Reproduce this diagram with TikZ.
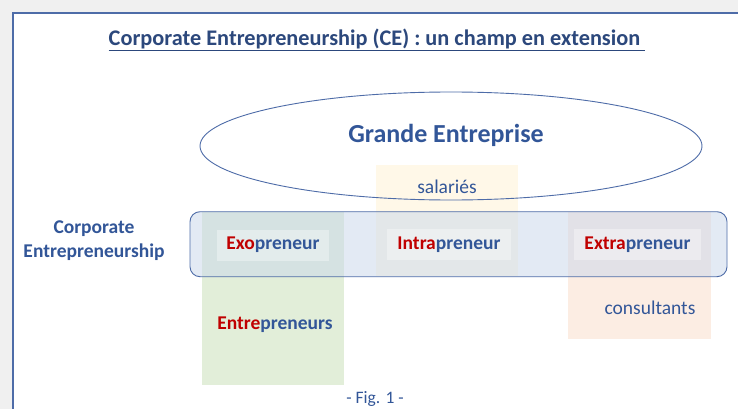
\documentclass[tikz,border=0pt]{standalone}
\usepackage{fontspec}
\setmainfont{Carlito}
\definecolor{titleblue}{RGB}{44, 72, 124}
\definecolor{textblue}{RGB}{50, 86, 152}
\definecolor{lineblue}{RGB}{78, 108, 168}
\definecolor{bandblue}{RGB}{201, 215, 235}
\definecolor{exored}{RGB}{192, 0, 0}
\definecolor{salyellow}{RGB}{255, 248, 232}
\definecolor{entgreen}{RGB}{226, 238, 217}
\definecolor{consorange}{RGB}{252, 237, 227}
\usepackage{tikz}
\usetikzlibrary{shapes.geometric, positioning}

\begin{document}
\begin{tikzpicture}[x=1pt, y=-1pt,
    zone/.style={rectangle, inner sep=0pt, draw=none},
    lbox/.style={rectangle, inner sep=0pt, fill=white, fill opacity=0.35, text opacity=1, minimum height=31pt},
    lab/.style={text=textblue, inner sep=0pt, font=\fontsize{19.5}{24}\selectfont},
    blab/.style={lab, font=\fontsize{19.5}{24}\selectfont\bfseries}]
  \useasboundingbox (0,0) rectangle (738,409);

  % Page frame
  \fill[black!6] (0,0) rectangle (738,409);
  \fill[white] (13,13) rectangle (738,409);
  \draw[lineblue, line width=1.4pt] (13,409) |- (738,13);

  % Title
  \node[text=titleblue, inner sep=0pt, font=\fontsize{22.3}{26}\selectfont\bfseries] (title) at (377,40) {\underline{Corporate Entrepreneurship (CE) : un champ en extension\ }};

  % Coloured zones
  \node[zone, fill=salyellow, minimum width=142pt, minimum height=111pt] (salzone) at (447,220.5) {};
  \node[zone, fill=entgreen, minimum width=142pt, minimum height=173pt] (entzone) at (272.6,298.4) {};
  \node[zone, fill=consorange, minimum width=143pt, minimum height=127pt] (conszone) at (639.5,275.5) {};

  % Corporate Entrepreneurship band
  \node[rectangle, rounded corners=10pt, draw=lineblue, line width=0.9pt, fill=bandblue, fill opacity=0.5, minimum width=537pt, minimum height=65pt, inner sep=0pt] (band) at (458.5,244.2) {};

  % Grande Entreprise
  \node[ellipse, draw=lineblue, line width=0.9pt, minimum width=502pt, minimum height=108pt, inner sep=0pt] (grande) at (451,146) {};
  \node[text=textblue, inner sep=0pt, font=\fontsize{26}{30}\selectfont\bfseries] (grandelab) at (446,135) {Grande Entreprise};

  % Label boxes
  \node[lbox, minimum width=112pt] (exo) at (273,245) {};
  \node[lbox, minimum width=124pt] (intra) at (449,244.5) {};
  \node[lbox, minimum width=127pt] (extra) at (637.5,244.5) {};
  \node[blab] (exolab) at (exo) {\textcolor{exored}{Exo}preneur};
  \node[blab] (intralab) at (intra) {\textcolor{exored}{Intra}preneur};
  \node[blab] (extralab) at (extra) {\textcolor{exored}{Extra}preneur};

  % Other texts
  \node[lab] (salaries) at (447,187) {salariés};
  \node[lab] (consultants) at (650,308) {consultants};
  \node[blab] (entrepreneurs) at (275,325) {\textcolor{exored}{Entre}preneurs};
  \node[blab, align=center] (celab) at (94,241) {Corporate\\Entrepreneurship};
  \node[lab, font=\fontsize{17.5}{20}\selectfont] (fig) at (375,399) {- Fig. 1 -};
\end{tikzpicture}
\end{document}
